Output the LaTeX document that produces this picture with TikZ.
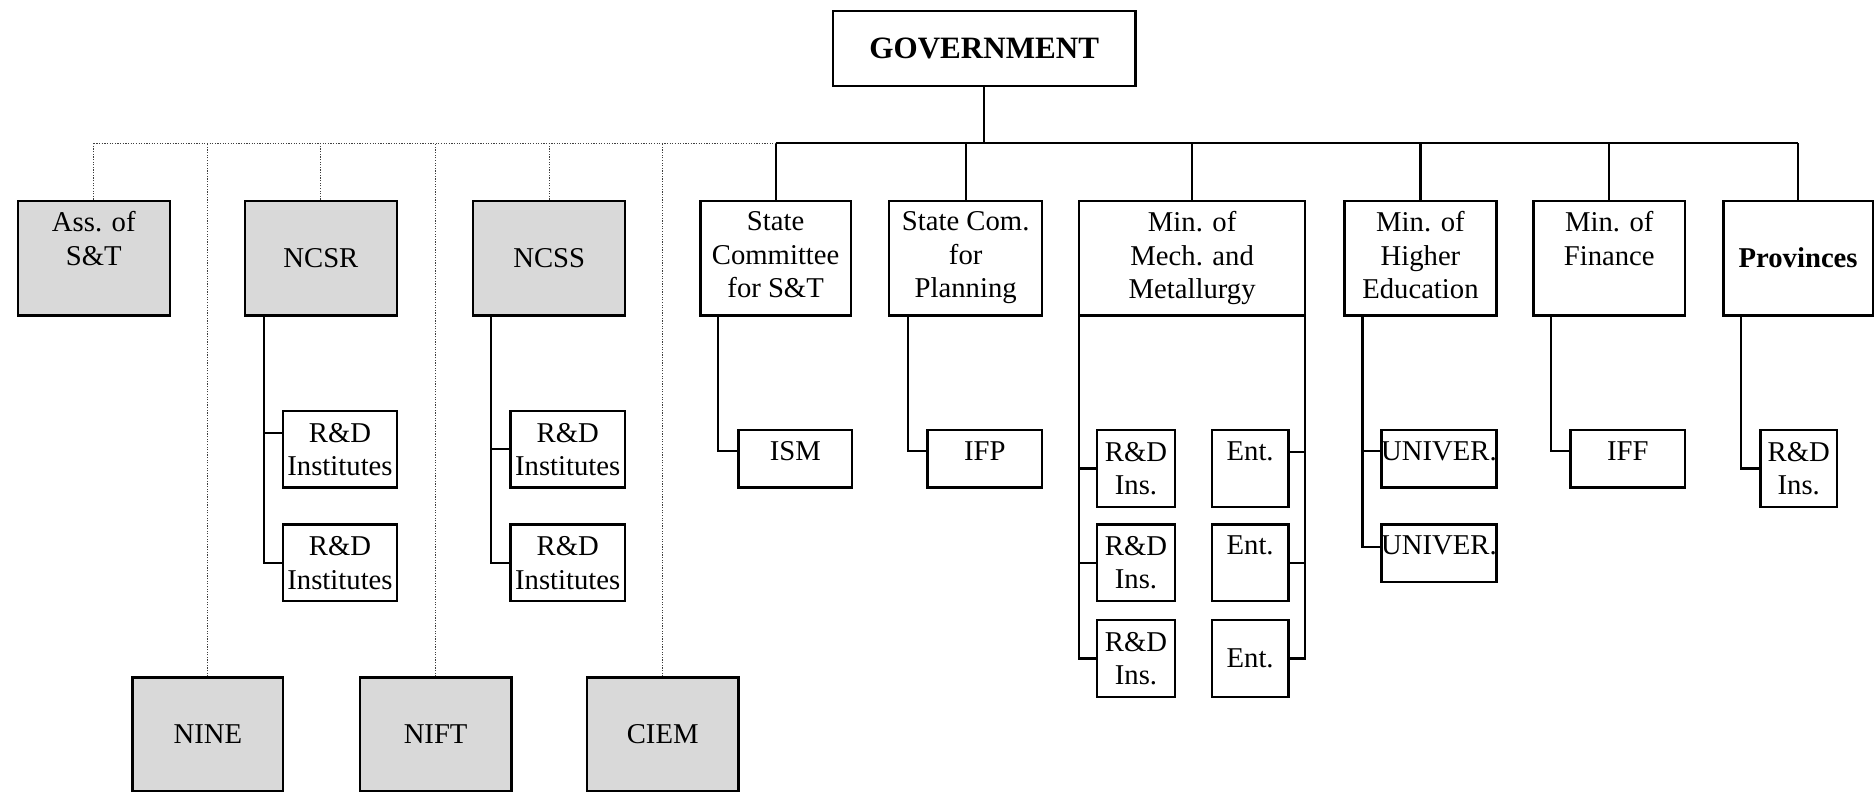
\documentclass[tikz,border=0pt]{standalone}
\usepackage{fontspec}
\setmainfont{Liberation Serif}
\definecolor{boxgray}{RGB}{217,217,217}
\newcommand\chartfont{\fontsize{24}{28}\selectfont}
\newcommand\govfont{\fontsize{26}{30}\selectfont\bfseries}
% name, style, x1, y1, x2, y2, text
\newcommand\boxat[7]{\node[#2,minimum width={#5-#3},minimum height={#6-#4},anchor=north west] (#1) at (#3,#4) {#7};}
\begin{document}
\begin{tikzpicture}[x=1pt,y=-1pt,
  bx/.style={draw, line width=2pt, inner sep=0pt, align=center, font=\chartfont},
  gbx/.style={bx, fill=boxgray},
  lbl/.style={inner sep=0pt, align=center, anchor=north, font=\chartfont},
  conn/.style={line width=1.8pt},
  dots/.style={line width=0.8pt, black!75, dash pattern=on 1pt off 1.2pt}]
\useasboundingbox (0,0) rectangle (1568,662);
\coordinate (bus) at (0,120);

% top
\boxat{gov}{bx,font=\govfont}{696}{8}{949}{71}{GOVERNMENT}

% first row
\boxat{ass}{gbx}{14}{167}{141}{263}{}
\boxat{ncsr}{gbx}{204}{167}{331}{263}{NCSR}
\boxat{ncss}{gbx}{395}{167}{522}{263}{NCSS}
\boxat{stc}{bx}{585}{167}{711}{263}{}
\boxat{scp}{bx}{743}{167}{871}{263}{}
\boxat{mech}{bx}{902}{167}{1091}{263}{}
\boxat{mhe}{bx}{1124}{167}{1251}{263}{}
\boxat{mfin}{bx}{1282}{167}{1409}{263}{}
\boxat{prov}{bx}{1441}{167}{1566}{263}{\textbf{Provinces}}

\node[lbl] at ([yshift=-10pt]ass.north) {Ass. of\\S\&T};
\node[lbl] at ([yshift=-10pt]stc.north) {State\\Committee\\for S\&T};
\node[lbl] at ([yshift=-10pt]scp.north) {State Com.\\for\\Planning};
\node[lbl] at ([yshift=-10pt]mech.north) {Min. of\\Mech. and\\Metallurgy};
\node[lbl] at ([yshift=-10pt]mhe.north) {Min. of\\Higher\\Education};
\node[lbl] at ([yshift=-10pt]mfin.north) {Min. of\\Finance};

% bottom grey boxes
\boxat{nine}{gbx}{110}{566}{236}{661}{NINE}
\boxat{nift}{gbx}{300}{566}{427}{661}{NIFT}
\boxat{ciem}{gbx}{490}{566}{617}{661}{CIEM}

% children
\boxat{rdA1}{bx}{236}{343}{331}{407}{R\&D\\Institutes}
\boxat{rdA2}{bx}{236}{438}{331}{502}{R\&D\\Institutes}
\boxat{rdB1}{bx}{426}{343}{522}{407}{R\&D\\Institutes}
\boxat{rdB2}{bx}{426}{438}{522}{502}{R\&D\\Institutes}
\boxat{ism}{bx}{617}{359}{712}{407}{}
\boxat{ifp}{bx}{775}{359}{871}{407}{}
\boxat{rdi1}{bx}{917}{359}{982}{423}{R\&D\\Ins.}
\boxat{rdi2}{bx}{917}{438}{982}{502}{R\&D\\Ins.}
\boxat{rdi3}{bx}{917}{518}{982}{582}{R\&D\\Ins.}
\boxat{ent1}{bx}{1013}{359}{1077}{423}{}
\boxat{ent2}{bx}{1013}{438}{1077}{502}{}
\boxat{ent3}{bx}{1013}{518}{1077}{582}{Ent.}
\boxat{uni1}{bx}{1155}{359}{1251}{407}{}
\boxat{uni2}{bx}{1155}{438}{1251}{486}{}
\boxat{iff}{bx}{1313}{359}{1409}{407}{}
\boxat{rdp}{bx}{1472}{359}{1536}{423}{R\&D\\Ins.}

\node[lbl] at ([yshift=-10pt]ism.north) {ISM};
\node[lbl] at ([yshift=-10pt]ifp.north) {IFP};
\node[lbl] at ([yshift=-10pt]ent1.north) {Ent.};
\node[lbl] at ([yshift=-10pt]ent2.north) {Ent.};
\node[lbl] at ([yshift=-10pt]uni1.north) {UNIVER.};
\node[lbl] at ([yshift=-10pt]uni2.north) {UNIVER.};
\node[lbl] at ([yshift=-10pt]iff.north) {IFF};

% government bus
\draw[conn] (gov.south) -- (gov.south |- bus);
\draw[conn] (stc.north |- bus) -- (prov.north |- bus);
\foreach \n in {stc,scp,mech,mhe,mfin,prov}
  \draw[conn] (\n.north) -- (\n.north |- bus);

% dotted links
\draw[dots] (ass.north |- bus) -- (stc.north |- bus);
\foreach \n in {ass,ncsr,ncss,nine,nift,ciem}
  \draw[dots] (\n.north) -- (\n.north |- bus);

% sub-branches
\draw[conn] ([xshift=17pt]ncsr.south west) |- (rdA2.west);
\draw[conn] ([yshift=14pt]rdA1.west) -- ++(-15,0);
\draw[conn] ([xshift=16pt]ncss.south west) |- (rdB2.west);
\draw[conn] (rdB1.west) -- ++(-15,0);
\draw[conn] ([xshift=16pt]stc.south west) |- ([yshift=7pt]ism.west);
\draw[conn] ([xshift=17pt]scp.south west) |- ([yshift=7pt]ifp.west);
\draw[conn] ([xshift=1pt]mech.south west) |- (rdi3.west);
\draw[conn] (rdi1.west) -- ++(-14,0);
\draw[conn] (rdi2.west) -- ++(-14,0);
\draw[conn] ([xshift=-1pt]mech.south east) |- (ent3.east);
\draw[conn] ([yshift=14pt]ent1.east) -- ++(13,0);
\draw[conn] (ent2.east) -- ++(13,0);
\draw[conn] ([xshift=16pt]mhe.south west) |- ([yshift=5pt]uni2.west);
\draw[conn] ([yshift=7pt]uni1.west) -- ++(-15,0);
\draw[conn] ([xshift=16pt]mfin.south west) |- ([yshift=7pt]iff.west);
\draw[conn] ([xshift=16pt]prov.south west) |- (rdp.west);
\end{tikzpicture}
\end{document}
